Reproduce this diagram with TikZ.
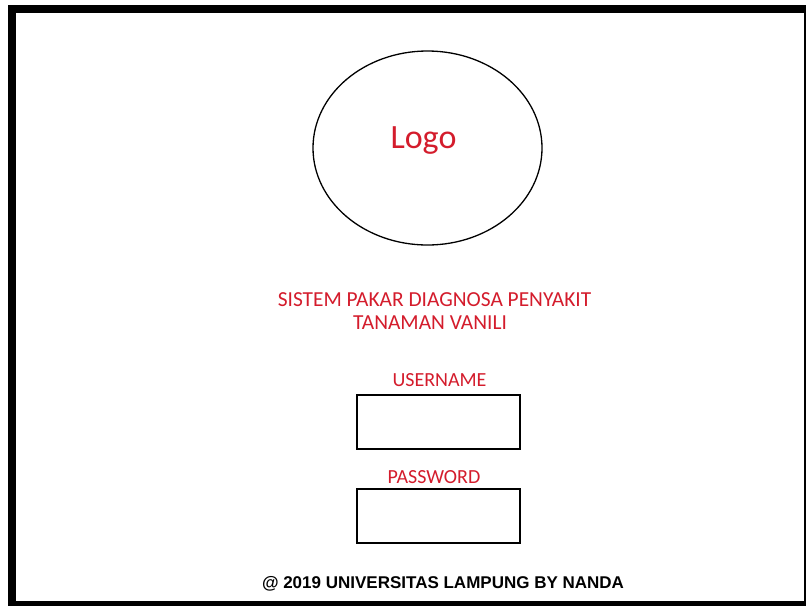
\documentclass[tikz,border=0pt]{standalone}
\usepackage{fontspec}
\usetikzlibrary{shapes.geometric}
\newfontfamily\calfont{Carlito}
\newfontfamily\arialfont{Liberation Sans}
\definecolor{formred}{RGB}{212,28,44}
\begin{document}
\begin{tikzpicture}[x=1pt,y=-1pt,
  redlabel/.style={text=formred, inner sep=0pt, anchor=base},
  inputbox/.style={draw=black, line width=1.5pt, inner sep=0pt},
]
\useasboundingbox (0,0) rectangle (806,606);
% page and heavy frame
\fill[white] (0,0) rectangle (806,606);
\fill[black] (8,5) rectangle (806,606);
\fill[white] (16,13) rectangle (804,601);

% logo placeholder
\node[draw=black, line width=1.3pt, ellipse, minimum width=229pt, minimum height=194pt, inner sep=0pt] (logo) at (427.5,148) {};
\node[redlabel, font=\calfont\fontsize{34}{38}\selectfont] (logotext) at (423.5,148) {Logo};

% application title
\node[redlabel, font=\calfont\fontsize{21.4}{24}\selectfont] (title1) at (434.5,306) {SISTEM PAKAR DIAGNOSA PENYAKIT};
\node[redlabel, font=\calfont\fontsize{21.4}{24}\selectfont] (title2) at (430,329) {TANAMAN VANILI};

% login fields
\node[redlabel, font=\calfont\fontsize{20}{24}\selectfont] (userlabel) at (439.5,386) {USERNAME};
\node[inputbox, minimum width=163pt, minimum height=54pt] (userbox) at (438.5,422) {};
\node[redlabel, font=\calfont\fontsize{20}{24}\selectfont] (passlabel) at (434,483) {PASSWORD};
\node[inputbox, minimum width=163pt, minimum height=54pt] (passbox) at (438.5,516) {};

% footer
\node[inner sep=0pt, anchor=base, font=\arialfont\bfseries\fontsize{17}{20}\selectfont] (footer) at (443,588) {@ 2019 UNIVERSITAS LAMPUNG BY NANDA};
\end{tikzpicture}
\end{document}
